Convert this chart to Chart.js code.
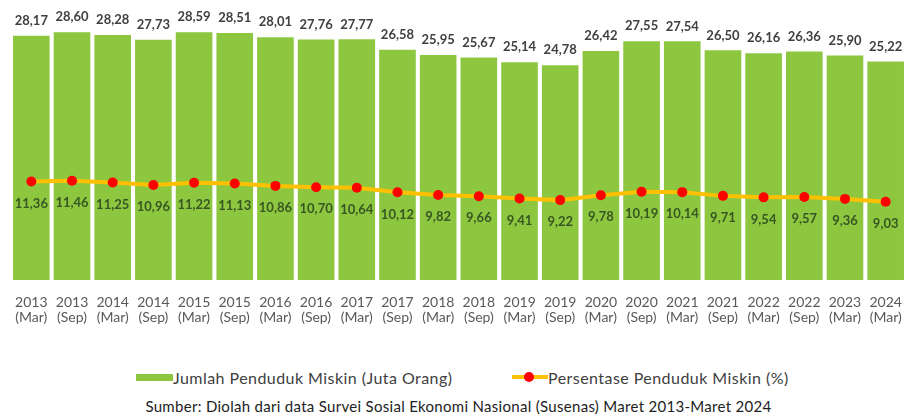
<!DOCTYPE html>
<html>
<head>
<meta charset="utf-8">
<script src="https://cdn.jsdelivr.net/npm/chart.js@4/dist/chart.umd.min.js"></script>
<style>
    html, body { margin: 0; padding: 0; background: #ffffff; }
    body { width: 917px; height: 416px; position: relative; overflow: hidden; font-family: Lato, "Open Sans", sans-serif; }
    #wrap { position: absolute; left: 0; top: 0; width: 917px; height: 344px; }
    .legend { position: absolute; top: 367px; left: 0; width: 917px; height: 20px; font-size: 16px; letter-spacing: 0.45px; color: #404040; }
    .legend .item { position: absolute; top: 0; display: flex; align-items: center; height: 20px; }
    .swatch-bar { width: 37px; height: 7px; background: #8dc63f; margin-right: 0; }
    .swatch-line { position: relative; width: 36px; height: 20px; margin-right: 0; }
    .swatch-line::before { content: ''; position: absolute; left: 0; right: 0; top: 8px; height: 4px; background: #ffc000; }
    .swatch-line::after { content: ''; position: absolute; left: 12px; top: 5px; width: 10px; height: 10px; border-radius: 50%; background: #ff0000; }
    .source { position: absolute; top: 397px; left: 0; width: 917px; text-align: center; font-size: 15px; letter-spacing: 0.3px; color: #222; }
</style>
</head>
<body>
<div id="wrap"><canvas id="povertyChart"></canvas></div>
<div class="legend">
    <div class="item" style="left:136px"><span class="swatch-bar"></span>Jumlah Penduduk Miskin (Juta Orang)</div>
    <div class="item" style="left:512px"><span class="swatch-line"></span>Persentase Penduduk Miskin (%)</div>
</div>
<div class="source">Sumber: Diolah dari data Survei Sosial Ekonomi Nasional (Susenas) Maret 2013-Maret 2024</div>
<script>
var years = ['2013', '2013', '2014', '2014', '2015', '2015', '2016', '2016', '2017', '2017', '2018',
    '2018', '2019', '2019', '2020', '2020', '2021', '2021', '2022', '2022', '2023', '2024'];
var periods = ['(Mar)', '(Sep)', '(Mar)', '(Sep)', '(Mar)', '(Sep)', '(Mar)', '(Sep)', '(Mar)', '(Sep)', '(Mar)',
    '(Sep)', '(Mar)', '(Sep)', '(Mar)', '(Sep)', '(Mar)', '(Sep)', '(Mar)', '(Sep)', '(Mar)', '(Mar)'];
var jumlahMiskin = [28.17, 28.60, 28.28, 27.73, 28.59, 28.51, 28.01, 27.76, 27.77, 26.58, 25.95,
    25.67, 25.14, 24.78, 26.42, 27.55, 27.54, 26.50, 26.16, 26.36, 25.90, 25.22];
var persenMiskin = [11.36, 11.46, 11.25, 10.96, 11.22, 11.13, 10.86, 10.70, 10.64, 10.12, 9.82,
    9.66, 9.41, 9.22, 9.78, 10.19, 10.14, 9.71, 9.54, 9.57, 9.36, 9.03];

(function () {
    var labels = years.map(function (y, i) {
        return [y, periods[i]];
    });

    function fmt(value) {
        return value.toFixed(2).replace('.', ',');
    }

    var valueLabels = {
        id: 'valueLabels',
        afterDatasetsDraw: function (chart) {
            var ctx = chart.ctx;
            ctx.save();
            ctx.textAlign = 'center';
            ctx.textBaseline = 'middle';
            ctx.font = 'bold 13px Lato, sans-serif';

            ctx.fillStyle = '#404040';
            chart.getDatasetMeta(0).data.forEach(function (bar, i) {
                ctx.fillText(fmt(jumlahMiskin[i]), bar.x, bar.y - 15);
            });

            ctx.fillStyle = '#375623';
            chart.getDatasetMeta(1).data.forEach(function (pt, i) {
                ctx.fillText(fmt(persenMiskin[i]), pt.x, pt.y + 22);
            });
            ctx.restore();
        }
    };

    new Chart(document.getElementById('povertyChart'), {
        data: {
            labels: labels,
            datasets: [
                {
                    type: 'bar',
                    label: 'Jumlah Penduduk Miskin (Juta Orang)',
                    data: jumlahMiskin,
                    backgroundColor: '#8dc63f',
                    borderWidth: 0,
                    barPercentage: 0.9,
                    categoryPercentage: 1,
                    order: 1
                },
                {
                    type: 'line',
                    label: 'Persentase Penduduk Miskin (%)',
                    data: persenMiskin,
                    borderColor: '#ffc000',
                    borderWidth: 4,
                    backgroundColor: '#ff0000',
                    pointBackgroundColor: '#ff0000',
                    pointBorderWidth: 0,
                    pointRadius: 5,
                    tension: 0,
                    order: 0
                }
            ]
        },
        options: {
            responsive: true,
            maintainAspectRatio: false,
            animation: false,
            layout: {
                padding: { left: 10, right: 1, top: 20, bottom: 4 }
            },
            plugins: {
                legend: { display: false },
                tooltip: { enabled: false }
            },
            scales: {
                y: {
                    display: false,
                    min: 0,
                    max: 30
                },
                x: {
                    grid: { display: false, drawTicks: false },
                    border: { display: false },
                    ticks: {
                        color: '#595959',
                        padding: 15,
                        maxRotation: 0,
                        autoSkip: false,
                        font: { family: 'Lato, sans-serif', size: 14, lineHeight: 1.07 }
                    }
                }
            }
        },
        plugins: [valueLabels]
    });
})();
</script>
</body>
</html>
